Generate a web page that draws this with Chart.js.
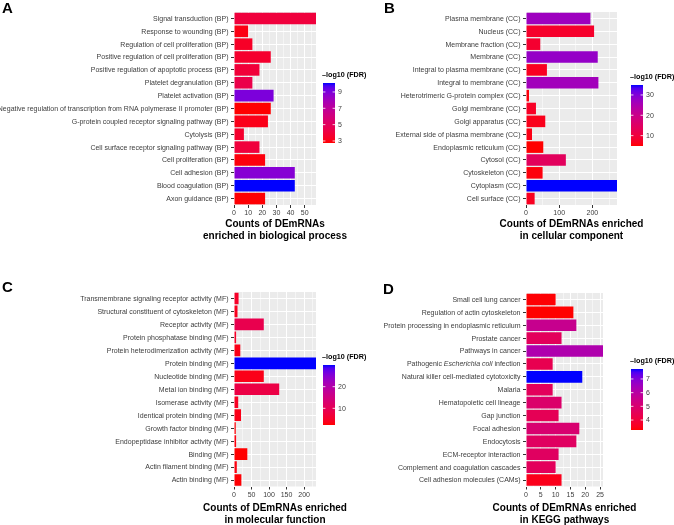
<!DOCTYPE html>
<html>
<head>
<meta charset="utf-8">
<script src="https://cdn.jsdelivr.net/npm/chart.js@4.4.0/dist/chart.umd.min.js"></script>
<style>
  body { margin: 0; background: #fff; }
  #wrap { position: relative; width: 674px; height: 525px; overflow: hidden; }
  canvas { position: absolute; left: 0; top: 0; }
  .letra { position: absolute; font: bold 15px "Liberation Sans", Arial, sans-serif; color: #000; line-height: 15px; }
</style>
</head>
<body>
<div id="wrap">
  <canvas id="graficoBP" width="674" height="525"></canvas>
  <canvas id="graficoCC" width="674" height="525"></canvas>
  <canvas id="graficoMF" width="674" height="525"></canvas>
  <canvas id="graficoKEGG" width="674" height="525"></canvas>
  <div class="letra" style="left:2px;top:0px">A</div>
  <div class="letra" style="left:384px;top:0px">B</div>
  <div class="letra" style="left:2px;top:279px">C</div>
  <div class="letra" style="left:383px;top:281px">D</div>
</div>
<script>
// Biological process
const labelsBP = [
    'Signal transduction (BP)',
    'Response to wounding (BP)',
    'Regulation of cell proliferation (BP)',
    'Positive regulation of cell proliferation (BP)',
    'Positive regulation of apoptotic process (BP)',
    'Platelet degranulation (BP)',
    'Platelet activation (BP)',
    'Negative regulation of transcription from RNA polymerase II promoter (BP)',
    'G-protein coupled receptor signaling pathway (BP)',
    'Cytolysis (BP)',
    'Cell surface receptor signaling pathway (BP)',
    'Cell proliferation (BP)',
    'Cell adhesion (BP)',
    'Blood coagulation (BP)',
    'Axon guidance (BP)'
];
const countsBP = [58, 10, 13, 26, 18, 13, 28, 26, 24, 7, 18, 22, 43, 43, 22];
const fdrBP = [4.0, 3.0, 3.4, 3.6, 3.9, 4.4, 9.0, 2.75, 3.1, 3.6, 4.0, 2.9, 8.8, 10.1, 2.8];
const legendTicksBP = [3, 5, 7, 9];

// Cellular component
const labelsCC = [
    'Plasma membrane (CC)',
    'Nucleus (CC)',
    'Membrane fraction (CC)',
    'Membrane (CC)',
    'Integral to plasma membrane (CC)',
    'Integral to membrane (CC)',
    'Heterotrimeric G-protein complex (CC)',
    'Golgi membrane (CC)',
    'Golgi apparatus (CC)',
    'External side of plasma membrane (CC)',
    'Endoplasmic reticulum (CC)',
    'Cytosol (CC)',
    'Cytoskeleton (CC)',
    'Cytoplasm (CC)',
    'Cell surface (CC)'
];
const countsCC = [194, 205, 43, 216, 63, 218, 9, 30, 58, 18, 52, 120, 50, 274, 26];
const fdrCC = [27, 8, 8.5, 28, 7, 26.5, 5.5, 7.5, 6.5, 6, 4.9, 14, 5.5, 34.9, 7];
const legendTicksCC = [10, 20, 30];

// Molecular function
const labelsMF = [
    'Transmembrane signaling receptor activity (MF)',
    'Structural constituent of cytoskeleton (MF)',
    'Receptor activity (MF)',
    'Protein phosphatase binding (MF)',
    'Protein heterodimerization activity (MF)',
    'Protein binding (MF)',
    'Nucleotide binding (MF)',
    'Metal ion binding (MF)',
    'Isomerase activity (MF)',
    'Identical protein binding (MF)',
    'Growth factor binding (MF)',
    'Endopeptidase inhibitor activity (MF)',
    'Binding (MF)',
    'Actin filament binding (MF)',
    'Actin binding (MF)'
];
const countsMF = [13, 10, 85, 6, 18, 234, 85, 129, 12, 20, 5, 6, 38, 8, 21];
const fdrMF = [5, 4, 9, 5, 3.5, 30, 3.5, 8, 4.5, 3.5, 2.5, 3, 2.3, 3, 2.5];
const legendTicksMF = [10, 20];

// KEGG pathways
const labelsKEGG = [
    'Small cell lung cancer',
    'Regulation of actin cytoskeleton',
    'Protein processing in endoplasmic reticulum',
    'Prostate cancer',
    'Pathways in cancer',
    'Pathogenic *Escherichia coli* infection',
    'Natural killer cell-mediated cytotoxicity',
    'Malaria',
    'Hematopoietic cell lineage',
    'Gap junction',
    'Focal adhesion',
    'Endocytosis',
    'ECM-receptor interaction',
    'Complement and coagulation cascades',
    'Cell adhesion molecules (CAMs)'
];
const countsKEGG = [10, 16, 17, 12, 26, 9, 19, 9, 12, 11, 18, 17, 11, 10, 12];
const fdrKEGG = [3.3, 3.27, 5.6, 4.6, 6.2, 4.4, 7.73, 4.6, 4.9, 4.5, 5.0, 4.7, 4.7, 4.6, 3.5];
const legendTicksKEGG = [4, 5, 6, 7];

const fonte = '"Liberation Sans", Arial, sans-serif';

// red -> blue gradient interpolated in Lab, like ggplot
function rgbToLab([r, g, b]) {
    const lin = c => { c /= 255; return c <= 0.04045 ? c / 12.92 : Math.pow((c + 0.055) / 1.055, 2.4); };
    const R = lin(r), G = lin(g), B = lin(b);
    const X = (0.4124 * R + 0.3576 * G + 0.1805 * B) / 0.95047;
    const Y = 0.2126 * R + 0.7152 * G + 0.0722 * B;
    const Z = (0.0193 * R + 0.1192 * G + 0.9505 * B) / 1.08883;
    const f = t => t > 0.008856 ? Math.cbrt(t) : 7.787 * t + 16 / 116;
    const fx = f(X), fy = f(Y), fz = f(Z);
    return [116 * fy - 16, 500 * (fx - fy), 200 * (fy - fz)];
}

function labToRgb([L, a, b]) {
    const fy = (L + 16) / 116, fx = fy + a / 500, fz = fy - b / 200;
    const finv = t => t * t * t > 0.008856 ? t * t * t : (t - 16 / 116) / 7.787;
    const X = finv(fx) * 0.95047, Y = finv(fy), Z = finv(fz) * 1.08883;
    const R = 3.2406 * X - 1.5372 * Y - 0.4986 * Z;
    const G = -0.9689 * X + 1.8758 * Y + 0.0415 * Z;
    const B = 0.0557 * X - 0.2040 * Y + 1.0570 * Z;
    const gam = c => {
        c = c <= 0.0031308 ? 12.92 * c : 1.055 * Math.pow(c, 1 / 2.4) - 0.055;
        return Math.round(Math.min(1, Math.max(0, c)) * 255);
    };
    return [gam(R), gam(G), gam(B)];
}

const labBaixo = rgbToLab([255, 0, 0]);
const labAlto = rgbToLab([0, 0, 255]);

function corGradiente(t) {
    t = Math.min(1, Math.max(0, t));
    const lab = labBaixo.map((v, i) => v + (labAlto[i] - v) * t);
    const [r, g, b] = labToRgb(lab);
    return `rgb(${r}, ${g}, ${b})`;
}

// Draws text with *italic* parts, right aligned at x
function textoRico(ctx, texto, x, y, tamanho) {
    const partes = texto.split('*').map((t, i) => ({ t, italico: i % 2 === 1 }));
    const fontePara = p => `${p.italico ? 'italic ' : ''}${tamanho}px ${fonte}`;
    let total = 0;
    partes.forEach(p => { ctx.font = fontePara(p); total += ctx.measureText(p.t).width; });
    let cx = x - total;
    ctx.textAlign = 'left';
    partes.forEach(p => {
        ctx.font = fontePara(p);
        ctx.fillText(p.t, cx, y);
        cx += ctx.measureText(p.t).width;
    });
}

function criarPainel(id, labels, counts, fdr, legendTicks, cfg) {
    const fdrMin = Math.min(...fdr);
    const fdrMax = Math.max(...fdr);
    const cores = fdr.map(v => corGradiente((v - fdrMin) / (fdrMax - fdrMin)));
    const ehMaior = v => Math.abs(v / cfg.major - Math.round(v / cfg.major)) < 1e-6;

    const plugin = {
        id: 'painel_' + id,
        beforeDraw(chart) {
            const { ctx, chartArea: a } = chart;
            ctx.save();
            ctx.fillStyle = '#EBEBEB';
            ctx.fillRect(a.left, a.top, a.right - a.left, a.bottom - a.top);
            ctx.restore();
        },
        afterDraw(chart) {
            const { ctx, chartArea: a } = chart;
            const yScale = chart.scales.y;
            ctx.save();
            ctx.fillStyle = '#3c3c3c';
            ctx.textBaseline = 'middle';
            labels.forEach((lab, i) => {
                textoRico(ctx, lab, a.left - 5.5, yScale.getPixelForTick(i) + 0.5, 7);
            });

            // axis title, two lines, centred on the panel
            ctx.fillStyle = '#000';
            ctx.font = `bold 10px ${fonte}`;
            ctx.textAlign = 'center';
            const meio = (a.left + a.right) / 2;
            cfg.titulo.forEach((linha, k) => {
                ctx.fillText(linha, meio, a.bottom + cfg.tituloY + k * 12);
            });

            // colour bar legend
            const cb = cfg.barra;
            const grad = ctx.createLinearGradient(0, cb.top + cb.h, 0, cb.top);
            for (let k = 0; k <= 20; k++) grad.addColorStop(k / 20, corGradiente(k / 20));
            ctx.fillStyle = grad;
            ctx.fillRect(cb.x, cb.top, cb.w, cb.h);
            ctx.strokeStyle = '#fff';
            ctx.lineWidth = 0.8;
            ctx.font = `7px ${fonte}`;
            legendTicks.forEach(v => {
                const y = cb.top + cb.h - (v - fdrMin) / (fdrMax - fdrMin) * cb.h;
                ctx.beginPath();
                ctx.moveTo(cb.x, y); ctx.lineTo(cb.x + cb.w / 5, y);
                ctx.moveTo(cb.x + cb.w, y); ctx.lineTo(cb.x + cb.w - cb.w / 5, y);
                ctx.stroke();
                ctx.fillStyle = '#3c3c3c';
                ctx.textAlign = 'left';
                ctx.fillText(String(v), cb.x + cb.w + 3, y + 0.5);
            });
            ctx.fillStyle = '#000';
            ctx.font = `bold 7.2px ${fonte}`;
            ctx.textAlign = 'left';
            ctx.fillText('\u2013log10 (FDR)', cb.x - 1, cb.top - 8);
            ctx.restore();
        }
    };

    const area = cfg.area;
    return new Chart(document.getElementById(id).getContext('2d'), {
        type: 'bar',
        data: {
            labels: labels.map(l => l.replace(/\*/g, '')),
            datasets: [{
                data: counts,
                backgroundColor: cores,
                borderWidth: 0,
                categoryPercentage: 1,
                barPercentage: 0.9
            }]
        },
        options: {
            indexAxis: 'y',
            responsive: false,
            animation: false,
            events: [],
            layout: {
                padding: {
                    left: cfg.padLeft,
                    right: 674 - area.right,
                    top: area.top,
                    bottom: 525 - area.bottom - 40
                }
            },
            plugins: {
                legend: { display: false },
                tooltip: { enabled: false }
            },
            scales: {
                x: {
                    min: 0,
                    max: Math.max(...counts),
                    border: { display: false },
                    grid: {
                        color: '#fff',
                        lineWidth: c => (c.tick && ehMaior(c.tick.value)) ? 1 : 0.5,
                        tickLength: 3,
                        tickColor: c => (c.tick && ehMaior(c.tick.value)) ? '#333' : 'rgba(0,0,0,0)'
                    },
                    ticks: {
                        stepSize: cfg.step,
                        includeBounds: false,
                        autoSkip: false,
                        maxRotation: 0,
                        padding: 1,
                        color: '#3c3c3c',
                        font: { size: 7, family: fonte },
                        callback: v => ehMaior(v) ? v : ''
                    },
                    afterFit: s => { s.height = 40; s.paddingLeft = 0; s.paddingRight = 0; }
                },
                y: {
                    border: { display: false },
                    grid: { color: '#fff', lineWidth: 1, offset: false, tickLength: 3, tickColor: '#333' },
                    ticks: { color: 'rgba(0,0,0,0)', autoSkip: false, font: { size: 7, family: fonte } },
                    afterFit: s => { s.width = area.left - cfg.padLeft; s.paddingTop = 0; s.paddingBottom = 0; }
                }
            }
        },
        plugins: [plugin]
    });
}

criarPainel('graficoBP', labelsBP, countsBP, fdrBP, legendTicksBP, {
    padLeft: 0, area: { left: 234, right: 316, top: 12, bottom: 205 },
    step: 5, major: 10, tituloY: 19.5,
    titulo: ['Counts of DEmRNAs', 'enriched in biological process'],
    barra: { x: 323, top: 83, w: 12, h: 60 }
});

criarPainel('graficoCC', labelsCC, countsCC, fdrCC, legendTicksCC, {
    padLeft: 337, area: { left: 526, right: 617, top: 12, bottom: 205 },
    step: 50, major: 100, tituloY: 19.5,
    titulo: ['Counts of DEmRNAs enriched', 'in cellular component'],
    barra: { x: 631, top: 85, w: 12, h: 61 }
});

criarPainel('graficoMF', labelsMF, countsMF, fdrMF, legendTicksMF, {
    padLeft: 0, area: { left: 234, right: 316, top: 292, bottom: 486.5 },
    step: 25, major: 50, tituloY: 21.5,
    titulo: ['Counts of DEmRNAs enriched', 'in molecular function'],
    barra: { x: 323, top: 365, w: 12, h: 60 }
});

criarPainel('graficoKEGG', labelsKEGG, countsKEGG, fdrKEGG, legendTicksKEGG, {
    padLeft: 337, area: { left: 526, right: 603, top: 293, bottom: 486.5 },
    step: 2.5, major: 5, tituloY: 21.5,
    titulo: ['Counts of DEmRNAs enriched', 'in KEGG pathways'],
    barra: { x: 631, top: 369, w: 12, h: 61 }
});
</script>
</body>
</html>
